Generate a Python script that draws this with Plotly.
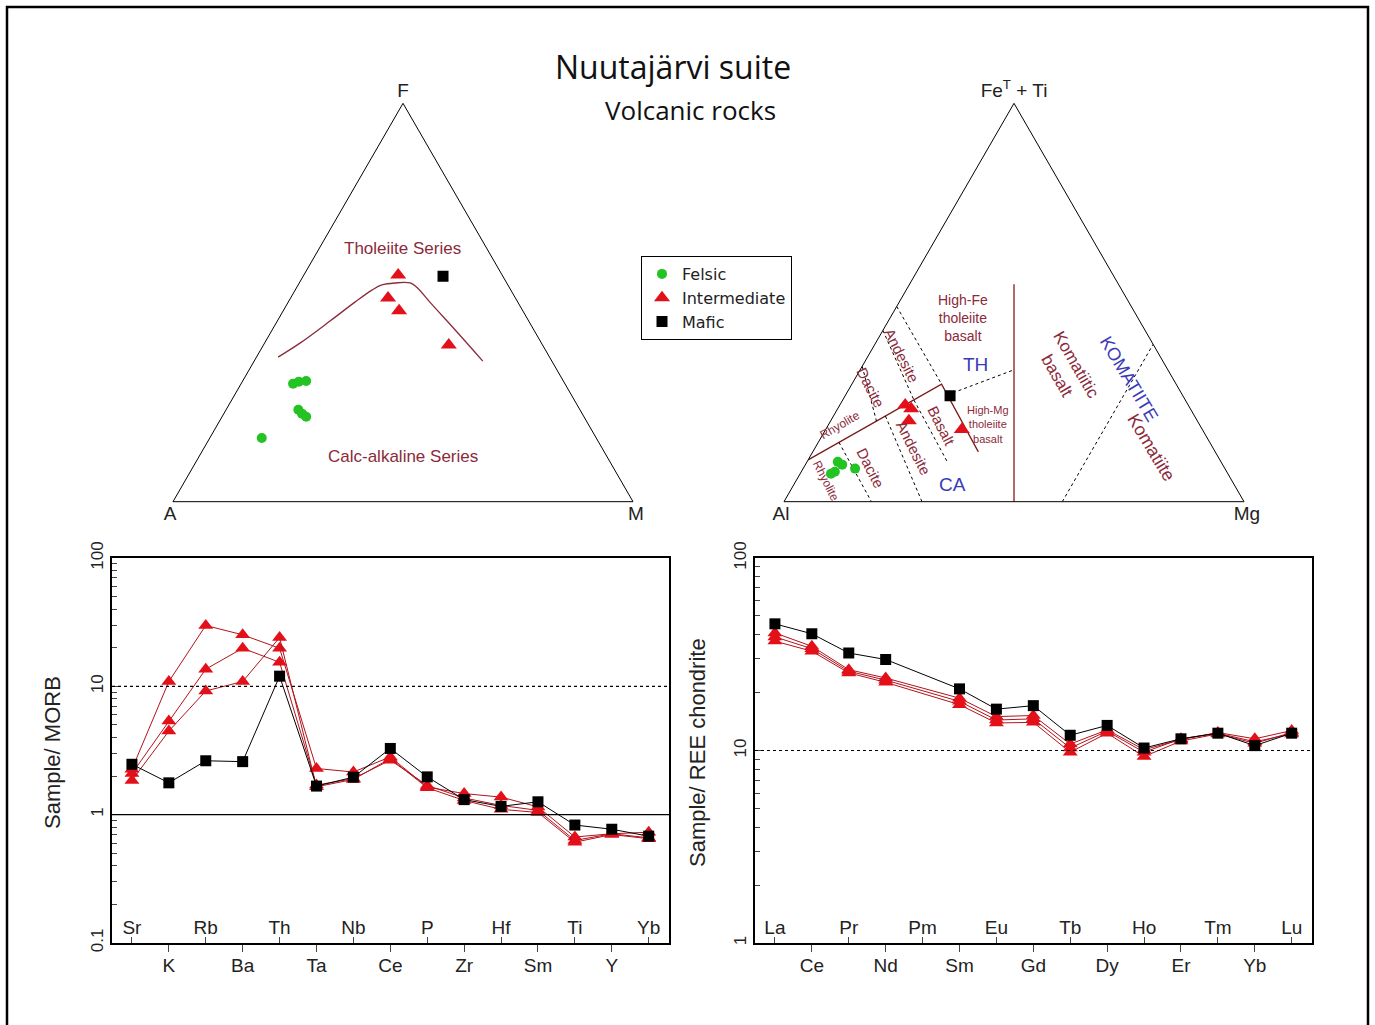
import plotly.graph_objects as go

W, H = 1375, 1025


def px(x):
    return x / W


def py(y):
    return 1 - y / H


FONT = "Liberation Sans, Arial, sans-serif"
MAROON = "#8b2a3a"
BLUE = "#3a3ab8"
GREEN = "#22c322"
RED = "#e3101a"
RED_LINE = "#b3121c"

# ---------------- AFM ternary (F, A, M in %) ----------------
afm_felsic_F = [29.6, 30.1, 30.3, 23.1, 22.1, 21.3, 16.0]
afm_felsic_A = [59.1, 57.6, 55.9, 61.2, 60.9, 60.4, 72.7]
afm_felsic_M = [11.3, 12.3, 13.8, 15.7, 17.0, 18.3, 11.3]
afm_int_F = [56.9, 51.1, 47.9, 39.3]
afm_int_A = [22.6, 27.7, 26.9, 20.4]
afm_int_M = [20.5, 21.2, 25.2, 40.3]
afm_maf_F = [56.6]
afm_maf_A = [13.0]
afm_maf_M = [30.4]
# Irvine & Baragar tholeiite / calc-alkaline boundary
afm_curve_F = [36.3, 39.8, 45.4, 50.1, 53.1, 54.4, 54.9, 54.9, 53.6, 50.1, 43.1, 35.3]
afm_curve_A = [59.0, 52.5, 43.1, 35.4, 30.2, 27.4, 24.3, 21.0, 20.0, 19.1, 17.1, 15.0]
afm_curve_M = [4.7, 7.7, 11.5, 14.5, 16.7, 18.2, 20.8, 24.1, 26.4, 30.8, 39.8, 49.7]

# ---------------- Jensen cation ternary (FeT+Ti, Al, Mg in %) ----------------
jen_felsic_Fe = [10.0, 9.3, 7.5, 7.0, 8.3]
jen_felsic_Al = [83.3, 82.7, 85.2, 86.3, 80.4]
jen_felsic_Mg = [6.7, 8.0, 7.3, 6.7, 11.3]
jen_int_Fe = [24.3, 23.3, 20.3, 18.1]
jen_int_Al = [61.5, 60.7, 62.7, 52.3]
jen_int_Mg = [14.2, 16.0, 17.0, 29.6]
jen_maf_Fe = [26.6]
jen_maf_Al = [50.6]
jen_maf_Mg = [22.8]

# solid boundaries
jen_vert_Fe, jen_vert_Al, jen_vert_Mg = [54.6, 0], [22.7, 50], [22.7, 50]
jen_thca_Fe, jen_thca_Al, jen_thca_Mg = [10.5, 29.5, 12.5], [89.5, 51, 51.5], [0, 19.5, 36]
# dotted boundaries
jen_dotted = {
    "T1": ([49, 29.5], [51, 51], [0, 19.5]),
    "T2": ([43, 25.5], [57, 59], [0, 15.5]),
    "T3": ([34, 20.2], [66, 69.8], [0, 10]),
    "C1": ([14.9, 0], [80.6, 81], [4.5, 19]),
    "C2": ([21.5, 0], [67.2, 70], [11.3, 30]),
    "C3": ([25.5, 10], [59, 59.5], [15.5, 30.5]),
    "THMg": ([26.8, 33.1], [51.1, 33.45], [22.1, 33.45]),
    "Kom": ([0, 39.5], [39.5, 0], [60.5, 60.5]),
}

# ---------------- Spider diagrams ----------------
elements_morb = ["Sr", "K", "Rb", "Ba", "Th", "Ta", "Nb", "Ce", "P", "Zr", "Hf", "Sm", "Ti", "Y", "Yb"]
morb_mafic = [2.47, 1.77, 2.63, 2.59, 12.0, 1.67, 1.96, 3.28, 1.97, 1.31, 1.16, 1.26, 0.83, 0.77, 0.68]
morb_int1 = [2.26, 10.9, 29.8, 25.2, 19.8, 2.29, 2.15, 2.82, 1.64, 1.46, 1.37, 1.15, 0.67, 0.71, 0.73]
morb_int2 = [2.09, 5.36, 13.6, 19.8, 15.4, 1.70, 1.91, 2.66, 1.69, 1.35, 1.18, 1.08, 0.63, 0.71, 0.66]
morb_int3 = [1.85, 4.48, 9.2, 10.9, 24.0, 1.65, 1.88, 2.74, 1.62, 1.29, 1.10, 1.04, 0.61, 0.70, 0.65]

elements_ree = ["La", "Ce", "Pr", "Nd", "Pm", "Sm", "Eu", "Gd", "Tb", "Dy", "Ho", "Er", "Tm", "Yb", "Lu"]
ree_mafic = [45.5, 40.4, 32.1, 29.7, None, 20.9, 16.4, 17.1, 12.0, 13.5, 10.3, 11.5, 12.3, 10.6, 12.3]
ree_int1 = [40.8, 34.8, 26.3, 23.8, None, 18.7, 15.0, 15.2, 10.8, 12.8, 10.1, 11.4, 12.4, 11.5, 12.7]
ree_int2 = [37.0, 32.8, 25.3, 22.6, None, 17.3, 13.9, 14.0, 9.8, 12.3, 9.3, 11.2, 12.2, 10.9, 12.4]
ree_int3 = [38.9, 33.8, 25.8, 23.2, None, 18.0, 14.4, 14.6, 10.3, 12.6, 9.8, 11.5, 12.3, 11.1, 12.2]

fig = go.Figure()

# ---- AFM traces (legend shown here) ----
fig.add_trace(go.Scatterternary(a=afm_curve_F, b=afm_curve_A, c=afm_curve_M, mode="lines",
                                line=dict(color=MAROON, width=1.3, shape="spline"),
                                subplot="ternary", showlegend=False, hoverinfo="skip"))
fig.add_trace(go.Scatterternary(a=afm_felsic_F, b=afm_felsic_A, c=afm_felsic_M, mode="markers",
                                name="Felsic", marker=dict(symbol="circle", size=10, color=GREEN),
                                subplot="ternary", legendgroup="f"))
fig.add_trace(go.Scatterternary(a=afm_int_F, b=afm_int_A, c=afm_int_M, mode="markers",
                                name="Intermediate", marker=dict(symbol="triangle-up", size=14, color=RED),
                                subplot="ternary", legendgroup="i"))
fig.add_trace(go.Scatterternary(a=afm_maf_F, b=afm_maf_A, c=afm_maf_M, mode="markers",
                                name="Mafic", marker=dict(symbol="square", size=11, color="black"),
                                subplot="ternary", legendgroup="m"))

# ---- Jensen traces ----
fig.add_trace(go.Scatterternary(a=jen_vert_Fe, b=jen_vert_Al, c=jen_vert_Mg, mode="lines",
                                line=dict(color="#8b1a1a", width=1.3), subplot="ternary2",
                                showlegend=False, hoverinfo="skip"))
fig.add_trace(go.Scatterternary(a=jen_thca_Fe, b=jen_thca_Al, c=jen_thca_Mg, mode="lines",
                                line=dict(color="#7a1a1a", width=1.3), subplot="ternary2",
                                showlegend=False, hoverinfo="skip"))
for key, (fa, fb, fc) in jen_dotted.items():
    fig.add_trace(go.Scatterternary(a=fa, b=fb, c=fc, mode="lines",
                                    line=dict(color="black", width=1, dash="dot"), subplot="ternary2",
                                    showlegend=False, hoverinfo="skip"))
fig.add_trace(go.Scatterternary(a=jen_felsic_Fe, b=jen_felsic_Al, c=jen_felsic_Mg, mode="markers",
                                name="Felsic", marker=dict(symbol="circle", size=10, color=GREEN),
                                subplot="ternary2", legendgroup="f", showlegend=False))
fig.add_trace(go.Scatterternary(a=jen_int_Fe, b=jen_int_Al, c=jen_int_Mg, mode="markers",
                                name="Intermediate", marker=dict(symbol="triangle-up", size=14, color=RED),
                                subplot="ternary2", legendgroup="i", showlegend=False))
fig.add_trace(go.Scatterternary(a=jen_maf_Fe, b=jen_maf_Al, c=jen_maf_Mg, mode="markers",
                                name="Mafic", marker=dict(symbol="square", size=11, color="black"),
                                subplot="ternary2", legendgroup="m", showlegend=False))

# ---- Spider: MORB normalised ----
xm = list(range(len(elements_morb)))
for s in [morb_int1, morb_int2, morb_int3]:
    fig.add_trace(go.Scatter(x=xm, y=s, mode="lines+markers", xaxis="x", yaxis="y",
                             line=dict(color=RED_LINE, width=1),
                             marker=dict(symbol="triangle-up", size=13, color=RED),
                             showlegend=False, legendgroup="i"))
fig.add_trace(go.Scatter(x=xm, y=morb_mafic, mode="lines+markers", xaxis="x3", yaxis="y",
                         line=dict(color="black", width=1),
                         marker=dict(symbol="square", size=11, color="black"),
                         showlegend=False, legendgroup="m"))

# ---- Spider: REE chondrite normalised ----
xr = list(range(len(elements_ree)))
for s in [ree_int1, ree_int2, ree_int3]:
    fig.add_trace(go.Scatter(x=xr, y=s, mode="lines+markers", xaxis="x2", yaxis="y2",
                             connectgaps=True, line=dict(color=RED_LINE, width=1),
                             marker=dict(symbol="triangle-up", size=13, color=RED),
                             showlegend=False, legendgroup="i"))
fig.add_trace(go.Scatter(x=xr, y=ree_mafic, mode="lines+markers", xaxis="x4", yaxis="y2",
                         connectgaps=True, line=dict(color="black", width=1),
                         marker=dict(symbol="square", size=11, color="black"),
                         showlegend=False, legendgroup="m"))


def tern_axis(title):
    return dict(title=dict(text=title, font=dict(size=19, family=FONT, color="#222")),
                showgrid=False, showticklabels=False, ticks="", showline=True,
                linecolor="black", linewidth=1)


tern_dom_y = [py(502), py(103)]
fig.update_layout(
    ternary=dict(domain=dict(x=[px(173), px(633)], y=tern_dom_y), sum=100, bgcolor="white",
                 aaxis=tern_axis("F"), baxis=tern_axis("A"), caxis=tern_axis("M")),
    ternary2=dict(domain=dict(x=[px(784), px(1244)], y=tern_dom_y), sum=100, bgcolor="white",
                  aaxis=tern_axis("Fe<sup>T</sup> + Ti"), baxis=tern_axis("Al"), caxis=tern_axis("Mg")),
)

x_range = [-0.54, 14.55]
odd = [i for i in xm if i % 2 == 1]
even = [i for i in xm if i % 2 == 0]
tickfont = dict(size=19, family=FONT, color="#222")


def xmain(domain, labels):
    return dict(domain=domain, range=x_range, tickmode="array", tickvals=odd,
                ticktext=[labels[i] for i in odd], ticks="outside", ticklen=7,
                ticklabelstandoff=-3,
                showline=True, mirror=True, linecolor="black", linewidth=1.5,
                showgrid=False, zeroline=False, tickfont=tickfont)


def xinner(over, anchor, labels):
    return dict(overlaying=over, anchor=anchor, side="bottom", range=x_range, tickmode="array",
                tickvals=even, ticktext=[labels[i] for i in even], ticks="inside", ticklen=6,
                ticklabelstandoff=-29, showline=False, showgrid=False, zeroline=False,
                tickfont=tickfont)


def minor_vals(lo, hi):
    vals = []
    d = lo
    while d < hi:
        vals += [d * k for k in range(2, 10)]
        d *= 10
    return vals


def yaxis(domain, rng, vals, anchor):
    return dict(domain=domain, anchor=anchor, type="log", range=rng, tickmode="array",
                tickvals=vals, ticktext=[("%g" % v) for v in vals], tickangle=-90,
                ticks="inside", ticklen=9, minor=dict(tickmode="array",
                                                     tickvals=minor_vals(vals[0], vals[-1]),
                                                     ticks="inside", ticklen=5),
                showline=True, mirror=True, linecolor="black", linewidth=1.5,
                showgrid=False, zeroline=False, tickfont=dict(size=17, family=FONT, color="#222"))


ydom = [py(943), py(558)]
fig.update_layout(
    xaxis=dict(xmain([px(112), px(669)], elements_morb), anchor="y"),
    xaxis3=xinner("x", "y", elements_morb),
    yaxis=yaxis(ydom, [-1, 2], [0.1, 1, 10, 100], "x"),
    xaxis2=dict(xmain([px(755), px(1312)], elements_ree), anchor="y2"),
    xaxis4=xinner("x2", "y2", elements_ree),
    yaxis2=yaxis(ydom, [0, 2], [1, 10, 100], "x2"),
)

shapes = [
    dict(type="line", xref="x domain", yref="y", x0=0, x1=1, y0=10, y1=10,
         line=dict(color="black", width=1.2, dash="dot")),
    dict(type="line", xref="x domain", yref="y", x0=0, x1=1, y0=1, y1=1,
         line=dict(color="black", width=1.3)),
    dict(type="line", xref="x2 domain", yref="y2", x0=0, x1=1, y0=10, y1=10,
         line=dict(color="black", width=1.2, dash="dot")),
    dict(type="rect", xref="paper", yref="paper", x0=px(7), x1=px(1368), y0=py(1040), y1=py(7),
         line=dict(color="black", width=2.5)),
]


def ann(text, x, y, size, color="#222", angle=0, family=FONT):
    return dict(text=text, x=px(x), y=py(y), xref="paper", yref="paper", showarrow=False,
                xanchor="center", yanchor="middle", textangle=angle,
                font=dict(size=size, color=color, family=family))


annotations = [
    ann("Nuutajärvi suite", 673, 66, 32, "#111", family="Open Sans, sans-serif"),
    ann("Volcanic rocks", 690, 110, 26, "#111", family="Open Sans, sans-serif"),
    ann("Tholeiite Series", 403, 248, 17, MAROON),
    ann("Calc-alkaline Series", 403, 457, 17, MAROON),
    ann("High-Fe<br>tholeiite<br>basalt", 963, 318, 14, MAROON),
    ann("TH", 975, 364, 19, BLUE),
    ann("CA", 952, 484, 19, BLUE),
    ann("High-Mg<br>tholeiite<br>basalt", 988, 425, 11, MAROON),
    ann("Andesite", 902, 355, 15, MAROON, 63),
    ann("Dacite", 871, 387, 15, MAROON, 63),
    ann("Rhyolite", 840, 425, 12, MAROON, -30),
    ann("Rhyolite", 826, 481, 12, MAROON, 63),
    ann("Dacite", 870, 468, 15, MAROON, 63),
    ann("Andesite", 913, 448, 15, MAROON, 63),
    ann("Basalt", 941, 426, 15, MAROON, 63),
    ann("Komatiitic<br>basalt", 1067, 370, 17, MAROON, 60),
    ann("KOMATIITE", 1129, 379, 18, BLUE, 59),
    ann("Komatiite", 1151, 447, 18, MAROON, 59),
    ann("Sample/ MORB", 52, 753, 22, "#222", -90),
    ann("Sample/ REE chondrite", 697, 752, 22, "#222", -90),
]

fig.update_layout(
    width=W, height=H, margin=dict(l=0, r=0, t=0, b=0, autoexpand=False),
    paper_bgcolor="white", plot_bgcolor="white",
    font=dict(family=FONT, color="#222"),
    shapes=shapes, annotations=annotations,
    legend=dict(x=px(641), y=py(256), xanchor="left", yanchor="top",
                bgcolor="white", bordercolor="black", borderwidth=1,
                font=dict(size=16, family="DejaVu Sans, Verdana, sans-serif", color="#222"),
                tracegroupgap=0),
)

fig.write_html(
    "out.html",
    config={"displayModeBar": False},
    post_script=(
        "document.body.style.margin='0';document.body.style.overflow='hidden';"
        "var d=document.getElementById('{plot_id}');"
        "d.style.position='fixed';d.style.left='0px';d.style.top='0px';"
    ),
)
